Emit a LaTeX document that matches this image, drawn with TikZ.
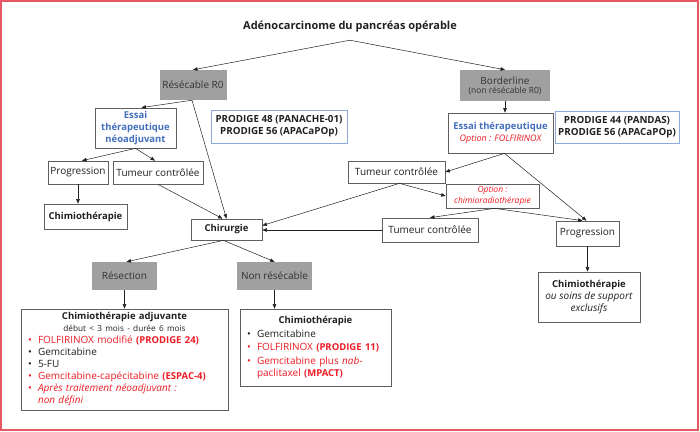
\documentclass[tikz,border=0pt]{standalone}
\usepackage{fontspec}
\setmainfont{Open Sans}
\usepackage{xcolor}
\usetikzlibrary{arrows.meta}

\definecolor{cadre}{RGB}{232,88,98}
\definecolor{rouge}{RGB}{237,28,36}
\definecolor{bleu}{RGB}{66,110,190}
\definecolor{bleuclair}{RGB}{140,170,220}
\definecolor{grisfond}{RGB}{160,160,160}
\definecolor{trait}{RGB}{95,95,95}
\definecolor{texte}{RGB}{35,31,32}

\newcommand\taille{\fontsize{10}{12}\selectfont}
\newcommand\tgras{\fontsize{9.5}{11.5}\selectfont\bfseries}
\newcommand\gr[1]{{\tgras #1}}
\newcommand\puce[1]{\makebox[10pt][l]{\textcolor{#1}{\textbullet}}}

\begin{document}
\begin{tikzpicture}[x=1pt, y=-1pt, font=\taille, text=texte,
    boite/.style={rectangle, draw=trait, line width=0.7pt, fill=white, inner sep=1pt, align=center},
    grise/.style={rectangle, fill=grisfond, text=black!80, inner sep=1pt, align=center},
    essai/.style={boite, text=bleu, font=\tgras},
    etude/.style={rectangle, draw=bleuclair, line width=0.7pt, inner sep=1pt, align=center, font=\fontsize{9.8}{12}\selectfont\bfseries},
    gras/.style={font=\tgras},
    fleche/.style={-{Triangle[length=4.5pt, width=3.5pt]}, line width=0.5pt, draw=texte}]
  \useasboundingbox (0,0) rectangle (700,431);
  \draw[cadre, line width=1.2pt] (1,1) rectangle (698,430);

  % haut
  \node[font=\fontsize{11}{13}\selectfont\bfseries, minimum height=26] (titre) at (350,27) {Adénocarcinome du pancréas opérable};
  \node[grise, minimum width=67, minimum height=30] (resec) at (193,85) {Résécable R0};
  \node[grise, minimum width=90, minimum height=31] (border) at (505,85.5)
    {Borderline\\[-3pt]{\fontsize{8.5}{9}\selectfont (non résécable R0)}};

  % branche gauche
  \node[essai, minimum width=81, minimum height=40, font=\fontsize{9.5}{11.8}\selectfont\bfseries] (essaiG) at (135.5,128)
    {Essai\\thérapeutique\\néoadjuvant};
  \node[etude, minimum width=136, minimum height=33] (pro48) at (279,126.5)
    {PRODIGE 48 (PANACHE-01)\\PRODIGE 56 (APACaPOp)};
  \node[boite, minimum width=60, minimum height=23] (progG) at (78,172.5) {Progression};
  \node[boite, minimum width=90, minimum height=23] (tumG) at (158,172.5) {Tumeur contrôlée};
  \node[boite, gras, minimum width=83, minimum height=25] (chimioG) at (85.5,216.5) {Chimiothérapie};
  \node[boite, gras, minimum width=71, minimum height=21] (chir) at (226.5,229.5) {Chirurgie};

  % branche droite
  \node[essai, minimum width=105, minimum height=40] (essaiD) at (500.5,133)
    {Essai thérapeutique\\[1pt]{\fontsize{9}{10}\selectfont\mdseries\itshape\color{rouge}Option : FOLFIRINOX}};
  \node[etude, minimum width=124, minimum height=32] (pro44) at (617,127)
    {PRODIGE 44 (PANDAS)\\PRODIGE 56 (APACaPOp)};
  \node[boite, minimum width=97, minimum height=22] (tumD1) at (396.5,172) {Tumeur contrôlée};
  \node[boite, minimum width=93, minimum height=24, text=rouge, font=\fontsize{8.5}{10.5}\selectfont\itshape] (optD) at (492.5,196)
    {Option :\\chimioradiothérapie};
  \node[boite, minimum width=96, minimum height=24] (tumD2) at (430,230) {Tumeur contrôlée};
  \node[boite, minimum width=63, minimum height=25] (progD) at (587.5,233.5) {Progression};
  \node[boite, minimum width=102, minimum height=50, font=\fontsize{10}{12}\selectfont] (chimioD) at (589,297)
    {\gr{Chimiothérapie}\\\textit{ou soins de support}\\\textit{exclusifs}};

  % bas
  \node[grise, minimum width=65, minimum height=28] (resection) at (124.5,276) {Résection};
  \node[grise, minimum width=75, minimum height=28] (nonres) at (274.5,276) {Non résécable};
  \node[boite, text width=193, minimum height=101, inner xsep=7pt, align=left, font=\fontsize{10}{12}\selectfont] (adj) at (124.5,359.5)
    {\makebox[\linewidth][c]{\tgras Chimiothérapie adjuvante}\\
     \makebox[\linewidth][c]{\fontsize{8.2}{9}\selectfont début < 3 mois - durée 6 mois}\\
     \puce{rouge}\textcolor{rouge}{FOLFIRINOX modifié \gr{(PRODIGE 24)}}\\
     \puce{texte}Gemcitabine\\
     \puce{texte}5-FU\\
     \puce{rouge}\textcolor{rouge}{Gemcitabine-capécitabine \gr{(ESPAC-4)}}\\
     \puce{rouge}\textcolor{rouge}{\itshape Après traitement néoadjuvant :}\\
     \hspace*{10pt}\textcolor{rouge}{\itshape non défini}};
  \node[boite, text width=137, minimum height=77, inner xsep=7pt, align=left, font=\fontsize{10}{13.5}\selectfont] (chimioNR) at (315.5,347.5)
    {\makebox[\linewidth][c]{\tgras Chimiothérapie}\\
     \puce{texte}Gemcitabine\\
     \puce{rouge}\textcolor{rouge}{FOLFIRINOX \gr{(PRODIGE 11)}}\\
     \puce{rouge}\textcolor{rouge}{Gemcitabine plus \textit{nab}-}\\[-1.5pt]
     \hspace*{10pt}\textcolor{rouge}{paclitaxel \gr{(MPACT)}}};

  % fleches
  \draw[fleche] (titre.south) -- (resec.north);
  \draw[fleche] (titre.south) -- (border.north);
  \draw[fleche] ([xshift=-1]resec.south) -- ([xshift=6]essaiG.north);
  \draw[fleche] ([xshift=-1]resec.south) -- (chir.north);
  \draw[fleche] (essaiG.south) -- ([xshift=4]progG.north);
  \draw[fleche] (essaiG.south) -- ([xshift=-3]tumG.north);
  \draw[fleche] (progG.south) -- (progG.south |- chimioG.north);
  \draw[fleche] (tumG.south) -- ([xshift=-4]chir.north);
  \draw[fleche] (border.south) -- (border.south |- essaiD.north);
  \draw[fleche] ([xshift=4]essaiD.south) -- (tumD1.east);
  \draw[fleche] ([xshift=4]essaiD.south) -- ([xshift=-1]progD.north);
  \draw[fleche] ([xshift=3]tumD1.south) -- (optD.west);
  \draw[fleche] ([xshift=3]tumD1.south) -- ([yshift=4]chir.east);
  \draw[fleche] ([xshift=2]optD.south) -- (tumD2.north);
  \draw[fleche] ([xshift=2]optD.south) -- ([xshift=-5]progD.north);
  \draw[fleche] (tumD2.west) -- (tumD2.west -| chir.east);
  \draw[fleche] (progD.south) -- (progD.south |- chimioD.north);
  \draw[fleche] ([xshift=-3]chir.south) -- ([xshift=2]resection.north);
  \draw[fleche] ([xshift=-3]chir.south) -- (nonres.north);
  \draw[fleche] (resection.south) -- (adj.north);
  \draw[fleche] (nonres.south) -- (nonres.south |- chimioNR.north);
\end{tikzpicture}
\end{document}
